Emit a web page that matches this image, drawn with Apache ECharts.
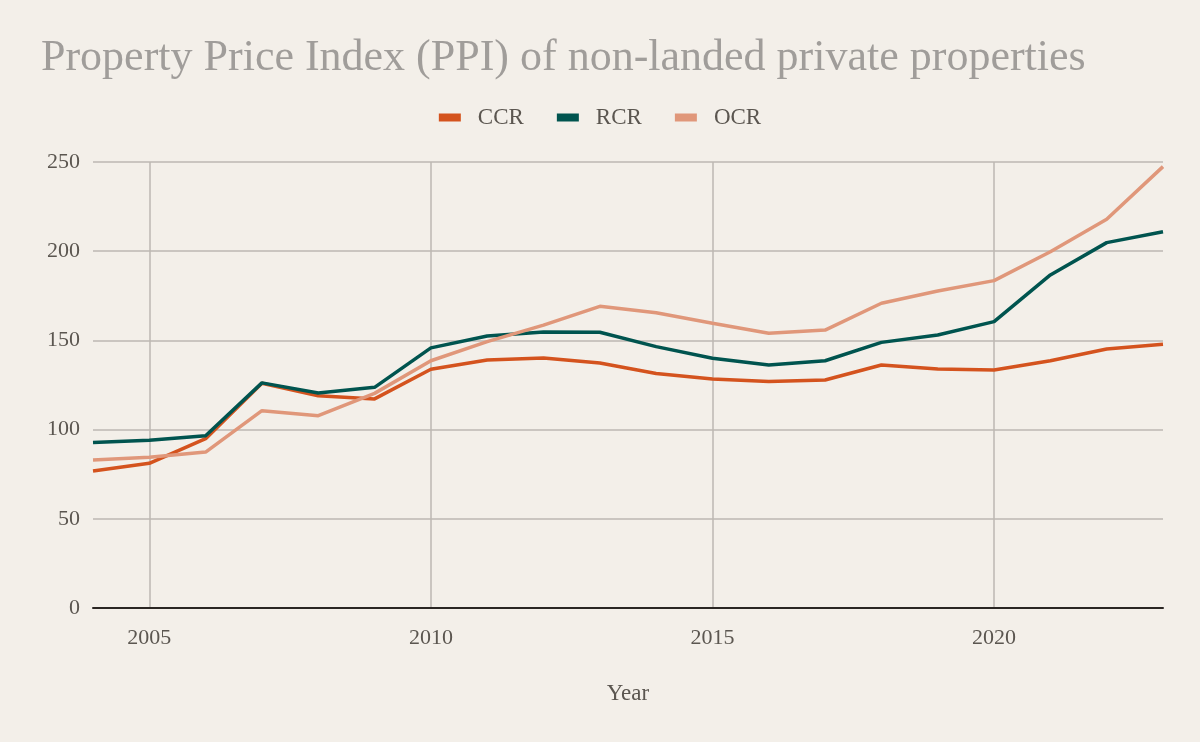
<!DOCTYPE html>
<html>
<head>
<meta charset="utf-8">
<script src="https://cdn.jsdelivr.net/npm/echarts@6/dist/echarts.min.js"></script>
<style>
html,body{margin:0;padding:0;background:#f3efe9;}
#c{width:1200px;height:742px;}
</style>
</head>
<body>
<div id="c"></div>
<script>
const years = ['2004','2005','2006','2007','2008','2009','2010','2011','2012','2013','2014','2015','2016','2017','2018','2019','2020','2021','2022','2023'];
const ccr = [76.8, 81.1, 94.9, 126.0, 119.0, 117.2, 133.8, 139.0, 140.1, 137.3, 131.5, 128.4, 126.9, 127.8, 136.2, 134.0, 133.4, 138.6, 145.2, 147.8];
const rcr = [92.7, 94.0, 96.6, 126.2, 120.5, 123.7, 145.8, 152.5, 154.7, 154.6, 146.5, 140.0, 136.2, 138.6, 148.9, 153.0, 160.5, 186.7, 204.8, 210.9];
const ocr = [83.0, 84.5, 87.4, 110.6, 107.8, 120.3, 138.6, 149.3, 158.6, 169.1, 165.5, 159.6, 154.0, 155.8, 170.8, 177.7, 183.5, 199.7, 217.9, 247.4];
const seriesNames = ['CCR', 'RCR', 'OCR'];
const colors = ['#d4531e', '#00544f', '#e0977a'];

const serif = '"Liberation Serif", "DejaVu Serif", serif';
const chart = echarts.init(document.getElementById('c'));
const mk = (name, data, color) => ({
  name, type: 'line', data, symbol: 'none', smooth: false,
  lineStyle: { width: 3.5, color }, itemStyle: { color }
});
chart.setOption({
  backgroundColor: '#f3efe9',
  animation: false,
  title: {
    text: 'Property Price Index (PPI) of non-landed private properties',
    left: 36, top: 31,
    textStyle: { fontFamily: serif, fontSize: 44, fontWeight: 'normal', color: '#a09d9a' }
  },
  legend: {
    data: seriesNames, top: 101, left: 'center',
    icon: 'rect', itemWidth: 22, itemHeight: 8, itemGap: 33,
    textStyle: { fontFamily: serif, fontSize: 23, color: '#5b5650', padding: [0, 0, 0, 12] }
  },
  grid: { left: 93, right: 37, top: 162, bottom: 134, containLabel: false },
  xAxis: {
    type: 'category', data: years, boundaryGap: false,
    name: 'Year', nameLocation: 'middle', nameGap: 74,
    nameTextStyle: { fontFamily: serif, fontSize: 23, color: '#5b5650' },
    axisLine: { lineStyle: { color: '#2a2623', width: 2 } },
    axisTick: { show: false },
    axisLabel: {
      interval: (i, v) => Number(v) % 5 === 0,
      fontFamily: serif, fontSize: 22, color: '#5b5650', margin: 19
    },
    splitLine: { show: true, interval: (i, v) => Number(v) % 5 === 0, lineStyle: { color: '#bcb7b2', width: 1.5 } }
  },
  yAxis: {
    type: 'value', min: 0, max: 250, interval: 50,
    axisLine: { show: false }, axisTick: { show: false },
    axisLabel: { fontFamily: serif, fontSize: 22, color: '#5b5650', margin: 13 },
    splitLine: { lineStyle: { color: '#bcb7b2', width: 1.5 } }
  },
  series: [mk('CCR', ccr, colors[0]), mk('RCR', rcr, colors[1]), mk('OCR', ocr, colors[2])]
});
</script>
</body>
</html>
